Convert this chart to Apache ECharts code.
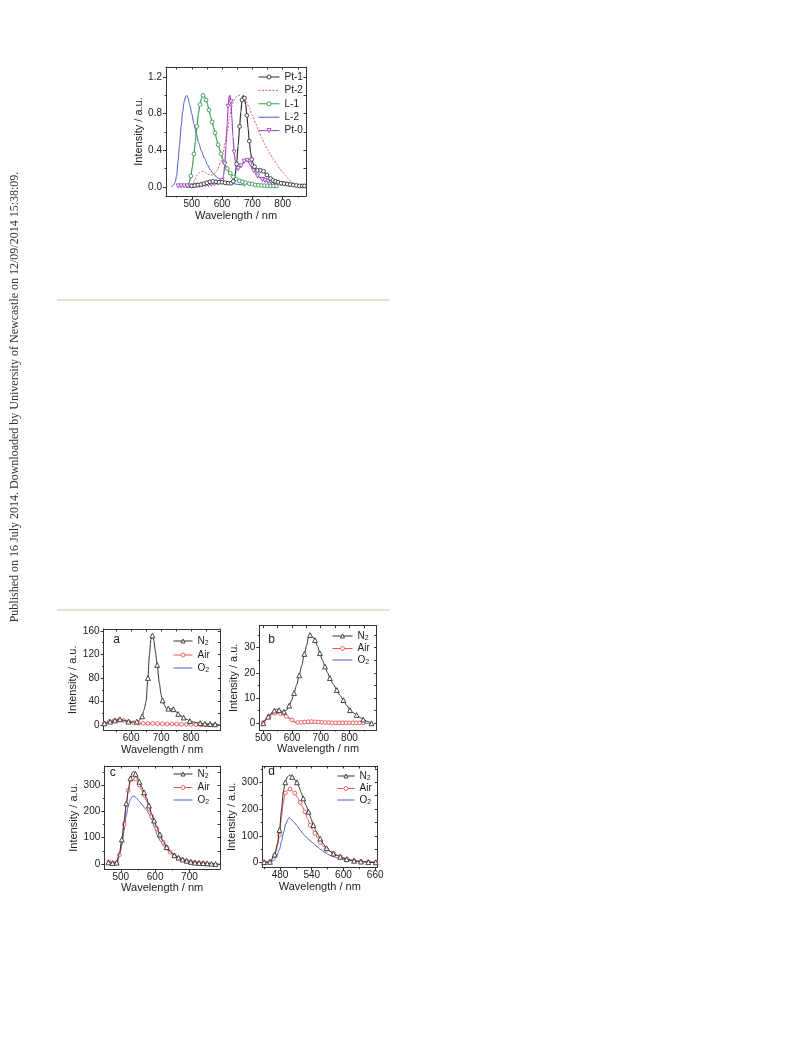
<!DOCTYPE html>
<html><head><meta charset="utf-8">
<script src="https://cdn.jsdelivr.net/npm/echarts@6/dist/echarts.min.js"></script>
<style>html,body{margin:0;padding:0;background:#fff}#c{width:793px;height:1039px}</style>
</head><body><div id="c"></div>
<script>
// ---------- top chart data ----------
const topNames = ['Pt-1','Pt-2','L-1','L-2','Pt-0'];
const topXTicks = [500,600,700,800];
const topXMinor = [450,550,650,750,850];
const topYTicks = [0,0.4,0.8,1.2];
const topYMinor = [0.2,0.6,1.0];
const topPt1 = [[500,0.01],[510,0.015],[520,0.02],[530,0.025],[540,0.035],[550,0.045],[560,0.055],[570,0.06],[580,0.055],[590,0.05],[600,0.05],[610,0.045],[620,0.04],[630,0.04],[637,0.06],[643,0.12],[648,0.25],[653,0.45],[658,0.66],[662,0.82],[666,0.95],[670,1.0],[674,0.97],[678,0.9],[682,0.78],[686,0.64],[690,0.5],[694,0.38],[698,0.3],[702,0.26],[707,0.22],[712,0.19],[717,0.18],[722,0.18],[727,0.18],[732,0.18],[737,0.17],[742,0.15],[748,0.13],[754,0.11],[760,0.09],[768,0.07],[776,0.06],[785,0.05],[795,0.04],[805,0.035],[815,0.03],[825,0.025],[835,0.02],[845,0.015],[855,0.01],[865,0.01],[872,0.01]];
const topPt2 = [[503,0.01],[510,0.08],[518,0.13],[527,0.16],[536,0.17],[545,0.16],[552,0.14],[560,0.13],[568,0.13],[577,0.15],[586,0.19],[595,0.27],[603,0.37],[610,0.48],[617,0.6],[624,0.74],[631,0.87],[638,0.94],[645,0.98],[652,1.0],[658,1.0],[665,0.98],[672,0.96],[680,0.93],[690,0.86],[700,0.78],[710,0.7],[720,0.62],[730,0.54],[740,0.47],[750,0.41],[760,0.35],[770,0.3],[780,0.25],[790,0.2],[800,0.16],[810,0.12],[820,0.08],[830,0.05],[840,0.02],[845,0.0]];
const topL1 = [[487,0.01],[492,0.05],[497,0.12],[502,0.22],[507,0.36],[512,0.5],[517,0.66],[522,0.8],[527,0.9],[532,0.97],[537,1.0],[542,0.99],[547,0.95],[552,0.9],[557,0.84],[562,0.77],[567,0.71],[572,0.65],[577,0.59],[582,0.52],[587,0.46],[592,0.41],[597,0.36],[602,0.31],[607,0.27],[612,0.23],[617,0.2],[622,0.17],[627,0.15],[632,0.13],[637,0.11],[642,0.1],[647,0.085],[652,0.075],[657,0.065],[662,0.06],[667,0.055],[672,0.05],[677,0.045],[682,0.04],[690,0.035],[700,0.03],[710,0.02],[720,0.018],[730,0.015],[740,0.013],[750,0.012],[760,0.01],[770,0.01],[780,0.01]];
const topL2 = [[433,0],[440,0.02],[445,0.05],[450,0.12],[455,0.28],[460,0.47],[465,0.66],[470,0.82],[475,0.93],[480,0.99],[484,1.0],[488,0.97],[493,0.9],[500,0.8],[507,0.69],[515,0.58],[523,0.48],[532,0.39],[542,0.31],[552,0.24],[562,0.18],[572,0.14],[585,0.1],[600,0.07],[615,0.05],[630,0.04],[645,0.03],[660,0.025],[672,0.02],[676,0.0]];
const topPt0 = [[455,0.01],[465,0.01],[475,0.01],[485,0.01],[495,0.01],[505,0.01],[515,0.015],[525,0.015],[535,0.02],[545,0.02],[555,0.025],[565,0.03],[575,0.035],[585,0.04],[593,0.05],[600,0.07],[605,0.12],[609,0.25],[613,0.45],[617,0.7],[620,0.88],[623,0.98],[626,1.0],[629,0.93],[632,0.78],[636,0.55],[640,0.38],[644,0.27],[648,0.22],[653,0.2],[658,0.21],[663,0.23],[668,0.26],[673,0.28],[678,0.29],[683,0.29],[688,0.28],[693,0.25],[698,0.21],[704,0.18],[710,0.15],[717,0.12],[725,0.1],[733,0.08],[742,0.07],[752,0.06],[762,0.05],[772,0.045],[782,0.04],[795,0.035],[808,0.03],[822,0.02]];

// ---------- panel a ----------
const aXTicks = [600,700,800], aXMinor = [550,650,750,850];
const aYTicks = [0,40,80,120,160], aYMinor = [20,60,100,140];
const aN2 = [[511,3],[530,6],[546,8],[563,10],[577,8],[591,6],[605,5],[619,6],[630,9],[637,15],[644,27],[650,41],[656,80],[661,119],[666,145],[671,152],[676,143],[681,125],[687,102],[694,72],[700,52],[705,42],[712,33],[718,28],[724,28],[732,28],[741,27],[750,23],[757,19],[763,17],[775,13],[786,10],[796,7],[810,5],[830,3.5],[846,2.5],[863,2],[880,1.5],[893,1]];
const aAir = [[511,3],[527,6],[544,8],[560,9],[576,8],[592,6],[608,4],[624,3.5],[640,3],[656,3],[672,3],[688,2.5],[704,2.5],[720,2],[736,2],[752,2],[768,1.5],[784,1.5],[800,1.2],[816,1],[832,1],[848,0.8],[864,0.6],[880,0.5],[894,0.5]];
const aO2 = [[511,2],[530,5],[548,7],[566,8],[584,7],[600,5],[620,3],[650,2],[700,1.5],[750,1],[800,0.8],[850,0.5],[895,0.3]];

// ---------- panel b ----------
const bXTicks = [500,600,700,800], bXMinor = [550,650,750,850];
const bYTicks = [0,10,20,30], bYMinor = [5,15,25,35];
const bN2 = [[500,0],[508,1.5],[517,2.6],[529,3.9],[538,5],[546,5.6],[555,5.2],[564,4.8],[572,4.6],[581,5.2],[590,7],[599,9.2],[607,12],[616,15.2],[625,19],[634,23],[643,27.5],[651,31],[657,34],[663,35],[671,34.3],[680,33],[689,30.5],[697,27.8],[706,25],[715,22.5],[724,20],[732,17.9],[744,15.4],[756,13.2],[767,11.1],[779,9.2],[790,7.2],[802,5.2],[813,4.2],[825,3.3],[837,2.3],[848,1.5],[862,0.8],[877,0]];
const bAir = [[500,0.3],[510,1.8],[520,2.8],[530,3.5],[540,3.9],[550,4],[560,3.8],[570,3.3],[580,2.7],[590,2],[600,1.3],[610,0.5],[620,0.3],[632,0.4],[644,0.5],[656,0.6],[668,0.7],[680,0.6],[692,0.5],[704,0.4],[716,0.3],[728,0.3],[740,0.2],[752,0.2],[764,0.2],[776,0.2],[788,0.2],[800,0.2],[812,0.2],[824,0.2],[836,0.2],[848,0.2]];
const bO2 = [[500,0],[510,1.5],[520,3],[530,4.1],[540,4.6],[550,4.8],[560,4.5],[570,3.8],[580,3],[590,2.1],[600,1.2],[610,0.4],[620,0.1],[650,0.1],[700,0.1],[750,0.1],[800,0.05],[850,0],[877,0]];

// ---------- panel c ----------
const cXTicks = [500,600,700], cXMinor = [550,650,750];
const cYTicks = [0,100,200,300], cYMinor = [50,150,250,350];
const cN2 = [[464,6],[476,3],[488,5],[496,40],[503,93],[510,165],[516,230],[522,281],[528,325],[534,348],[538,352],[543,342],[548,330],[554,312],[561,292],[568,272],[575,252],[582,222],[590,190],[597,165],[605,142],[614,112],[624,85],[634,64],[644,47],[656,33],[668,24],[680,17],[692,12],[704,8],[716,5],[728,4],[740,3],[752,2],[764,1],[776,0]];
const cAir = [[466,8],[478,5],[488,4],[496,35],[503,80],[510,150],[516,225],[522,280],[528,310],[534,326],[538,330],[543,322],[548,314],[554,300],[561,280],[568,262],[575,240],[582,210],[590,180],[597,157],[605,135],[614,107],[624,82],[634,62],[644,45],[656,32],[668,23],[680,16],[692,11],[704,8],[716,6],[728,4],[740,3],[752,2]];
const cO2 = [[466,5],[478,3],[488,4],[496,30],[503,70],[510,130],[516,185],[522,222],[528,245],[533,255],[538,258],[543,254],[548,247],[555,236],[562,225],[570,212],[576,204],[583,188],[590,168],[598,140],[606,110],[615,88],[624,70],[634,55],[644,42],[656,31],[668,22],[680,16],[692,11],[704,7],[716,5],[730,3],[750,2],[770,1],[788,0]];

// ---------- panel d ----------
const dXTicks = [480,540,600,660], dXMinor = [450,510,570,630];
const dYTicks = [0,100,200,300], dYMinor = [50,150,250,350];
const dN2 = [[450,2],[461,3],[470,30],[475,70],[479,122],[483,200],[486,262],[490,300],[494,320],[498,327],[503,320],[508,310],[512,300],[516,283],[520,262],[524,240],[529,215],[534,190],[539,163],[543,140],[549,115],[556,90],[562,70],[568,54],[575,42],[581,34],[587,28],[594,22],[600,17],[606,13],[613,10],[620,7],[627,5],[633,4],[640,3],[647,2],[654,1],[661,1]];
const dAir = [[450,2],[461,3],[470,28],[475,60],[479,103],[483,172],[486,222],[490,260],[494,270],[499,275],[503,270],[508,260],[513,243],[518,225],[523,208],[527,190],[532,165],[537,140],[542,122],[546,110],[551,92],[556,76],[562,62],[568,50],[575,42],[581,35],[587,29],[594,23],[600,18],[607,14],[613,10],[620,8],[627,6],[633,5],[640,4],[647,3],[654,2],[661,1]];
const dO2 = [[450,1],[461,2],[468,8],[474,25],[479,50],[483,80],[487,115],[491,145],[495,162],[498,168],[502,160],[507,150],[512,138],[518,122],[524,107],[530,95],[537,82],[543,72],[550,60],[557,49],[565,38],[575,27],[585,20],[595,14],[606,10],[620,6],[638,3],[652,2],[664,1]];

const gasNames = ['N2','Air','O2'];

// ---------- styling ----------
const AX = '#333', TXT = '#222';
const FONT = '"Liberation Sans", Arial, sans-serif';
const BLACK = '#333', RED = '#f05555', BLUE = '#4a5ccc', GREEN = '#3a9a52', PURPLE = '#a347c4';

// show a marker only when at least `gap` nm from the previous marker
function marked(data, gap) {
  let last = -1e9;
  return data.map(p => {
    if (p[0] - last >= gap) { last = p[0]; return {value: p}; }
    return {value: p, symbol: 'none'};
  });
}

const grids = [], xAxes = [], yAxes = [], series = [], legends = [];

function panel(cfg) {
  const g = grids.length;
  grids.push({left: cfg.box[0], top: cfg.box[1], width: cfg.box[2], height: cfg.box[3]});
  const xi = xAxes.length, yi = yAxes.length;
  const base = {gridIndex: g, type: 'value', splitLine: {show: false}, axisPointer: {show: false}};
  const ls = {color: AX, width: 1};
  const lab = {fontSize: 10, color: TXT, fontFamily: FONT};
  xAxes.push(Object.assign({}, base, {position: 'bottom', min: cfg.x[0], max: cfg.x[1],
    axisLine: {show: true, onZero: false, lineStyle: ls},
    axisTick: {show: true, inside: false, length: 3, customValues: cfg.xt, lineStyle: ls},
    axisLabel: Object.assign({show: true, customValues: cfg.xt, margin: 3}, lab),
    name: 'Wavelength / nm', nameLocation: 'middle', nameGap: cfg.xng,
    nameTextStyle: {fontSize: 11, color: TXT, fontFamily: FONT}}));
  xAxes.push(Object.assign({}, base, {position: 'bottom', min: cfg.x[0], max: cfg.x[1],
    axisLine: {show: false, onZero: false},
    axisTick: {show: true, inside: false, length: 1.5, customValues: cfg.xm, lineStyle: ls},
    axisLabel: {show: false}}));
  xAxes.push(Object.assign({}, base, {position: 'top', min: cfg.x[0], max: cfg.x[1],
    axisLine: {show: true, onZero: false, lineStyle: ls},
    axisTick: {show: true, inside: true, length: 2.5, customValues: cfg.xt.concat(cfg.xm), lineStyle: ls},
    axisLabel: {show: false}}));
  yAxes.push(Object.assign({}, base, {position: 'left', min: cfg.y[0], max: cfg.y[1],
    axisLine: {show: true, onZero: false, lineStyle: ls},
    axisTick: {show: true, inside: false, length: 3, customValues: cfg.yt, lineStyle: ls},
    axisLabel: Object.assign({show: true, customValues: cfg.yt, margin: 4, formatter: cfg.yf || (v => String(Math.round(v)))}, lab),
    name: 'Intensity / a.u.', nameLocation: 'middle', nameGap: cfg.yng,
    nameTextStyle: {fontSize: 11, color: TXT, fontFamily: FONT}}));
  yAxes.push(Object.assign({}, base, {position: 'left', min: cfg.y[0], max: cfg.y[1],
    axisLine: {show: false, onZero: false},
    axisTick: {show: true, inside: false, length: 1.5, customValues: cfg.ym, lineStyle: ls},
    axisLabel: {show: false}}));
  yAxes.push(Object.assign({}, base, {position: 'right', min: cfg.y[0], max: cfg.y[1],
    axisLine: {show: true, onZero: false, lineStyle: ls},
    axisTick: {show: true, inside: true, length: 2.5, customValues: cfg.yt.concat(cfg.ym), lineStyle: ls},
    axisLabel: {show: false}}));
  cfg.series.forEach(s => {
    series.push(Object.assign({type: 'line', xAxisIndex: xi, yAxisIndex: yi, animation: false,
      smooth: 0.25, smoothMonotone: 'x', showAllSymbol: true, clip: true,
      emphasis: {disabled: true}}, s));
  });
  legends.push(Object.assign({orient: 'vertical', padding: 0, selectedMode: false,
    itemHeight: 5, lineStyle: {width: 1},
    textStyle: {fontSize: 10, color: TXT, fontFamily: FONT,
      rich: {s: {fontSize: 7, verticalAlign: 'bottom', padding: [5, 0, 0, 0], color: TXT, fontFamily: FONT}}},
    formatter: n => (n === 'N2' || n === 'O2') ? n[0] + '{s|2}' : n}, cfg.legend));
}

function sym(shape, color, size, extra) {
  return Object.assign({color: color, symbol: shape, symbolSize: size,
    itemStyle: {color: '#fff', borderColor: color, borderWidth: 0.9}}, extra || {});
}
function hollow(name, color) {
  return {name: name, itemStyle: {color: '#fff', borderColor: color, borderWidth: 0.9}, lineStyle: {color: color, width: 1}};
}
function lineOnly(name, color, type) {
  return {name: name, itemStyle: {opacity: 0}, lineStyle: {color: color, width: 1, type: type || 'solid'}};
}

function gas(n2, air, o2, gN2, gAir) {
  return [
    Object.assign(sym('triangle', BLACK, 4.8), {name: 'N2', data: marked(n2, gN2), lineStyle: {width: 1, color: BLACK}, z: 3}),
    Object.assign(sym('circle', RED, 3.8), {name: 'Air', data: marked(air, gAir), lineStyle: {width: 1, color: RED}, z: 2}),
    {name: 'O2', data: o2, color: BLUE, lineStyle: {width: 1, color: BLUE}, symbol: 'none', showSymbol: false, z: 1}
  ];
}
const gasLegend = [hollow('N2', BLACK), hollow('Air', RED), lineOnly('O2', BLUE)];

// top chart
panel({box: [166, 67, 140, 129], x: [415, 877], y: [-0.1, 1.31],
  xt: topXTicks, xm: topXMinor, yt: topYTicks, ym: topYMinor, xng: 14, yng: 15.5,
  yf: v => v.toFixed(1),
  series: [
    {name: 'L-2', data: topL2, color: BLUE, lineStyle: {width: 1, color: BLUE}, symbol: 'none', showSymbol: false},
    Object.assign(sym('circle', GREEN, 3.8), {name: 'L-1', data: marked(topL1, 9), lineStyle: {width: 1.2, color: GREEN}}),
    {name: 'Pt-2', data: topPt2, color: RED, lineStyle: {width: 1, color: RED, type: [2, 1.5]}, symbol: 'none', showSymbol: false},
    Object.assign(sym('triangle', PURPLE, 4, {symbolRotate: 180}), {name: 'Pt-0', data: marked(topPt0, 9), lineStyle: {width: 1.2, color: PURPLE}}),
    Object.assign(sym('circle', BLACK, 3.8), {name: 'Pt-1', data: marked(topPt1, 7), lineStyle: {width: 1.2, color: BLACK}})
  ],
  legend: {data: [hollow('Pt-1', BLACK), lineOnly('Pt-2', RED, [2, 1.5]), hollow('L-1', GREEN), lineOnly('L-2', BLUE), hollow('Pt-0', PURPLE)],
    left: 258, top: 72, itemWidth: 21, itemGap: 3.4}
});
// a
panel({box: [103.5, 629, 117, 101.5], x: [508, 898], y: [-9, 163],
  xt: aXTicks, xm: aXMinor, yt: aYTicks, ym: aYMinor, xng: 11, yng: 14,
  series: gas(aN2, aAir, aO2, 15, 15),
  legend: {data: gasLegend, left: 173, top: 636, itemWidth: 19, itemGap: 3}
});
// b
panel({box: [259.3, 625.7, 117.4, 104.3], x: [486, 895], y: [-2.66, 38.7],
  xt: bXTicks, xm: bXMinor, yt: bYTicks, ym: bYMinor, xng: 11, yng: 20,
  series: gas(bN2, bAir, bO2, 15, 11),
  legend: {data: gasLegend, left: 332, top: 631, itemWidth: 20, itemGap: 1.5}
});
// c
panel({box: [104.3, 766, 115.7, 103], x: [452, 789], y: [-19, 372],
  xt: cXTicks, xm: cXMinor, yt: cYTicks, ym: cYMinor, xng: 12, yng: 25,
  series: gas(cN2, cAir, cO2, 11, 8),
  legend: {data: gasLegend, left: 173, top: 769, itemWidth: 19, itemGap: 2.5}
});
// d
panel({box: [262.3, 766, 115, 101.7], x: [446.5, 664], y: [-18.7, 361],
  xt: dXTicks, xm: dXMinor, yt: dYTicks, ym: dYMinor, xng: 12, yng: 23.5,
  series: gas(dN2, dAir, dO2, 9, 8),
  legend: {data: gasLegend, left: 337, top: 771, itemWidth: 17, itemGap: 1.5}
});

const graphic = [
  {type: 'rect', shape: {x: 57, y: 299, width: 333, height: 2}, style: {fill: '#e3e3d3'}, silent: true},
  {type: 'rect', shape: {x: 57, y: 609, width: 333, height: 2}, style: {fill: '#e3e3d3'}, silent: true},
  {type: 'text', x: 15, y: 397, rotation: Math.PI / 2, silent: true,
    style: {text: 'Published on 16 July 2014. Downloaded by University of Newcastle on 12/09/2014 15:38:09.',
      fontSize: 12, fontFamily: '"Liberation Serif", "Times New Roman", serif', fill: '#333',
      textAlign: 'center', textVerticalAlign: 'middle'}},
  {type: 'text', x: 116.7, y: 640, silent: true, style: {text: 'a', fontSize: 12, fontFamily: FONT, fill: TXT, textAlign: 'center', textVerticalAlign: 'middle'}},
  {type: 'text', x: 271.7, y: 640, silent: true, style: {text: 'b', fontSize: 12, fontFamily: FONT, fill: TXT, textAlign: 'center', textVerticalAlign: 'middle'}},
  {type: 'text', x: 112.7, y: 772.3, silent: true, style: {text: 'c', fontSize: 12, fontFamily: FONT, fill: TXT, textAlign: 'center', textVerticalAlign: 'middle'}},
  {type: 'text', x: 271.7, y: 772, silent: true, style: {text: 'd', fontSize: 12, fontFamily: FONT, fill: TXT, textAlign: 'center', textVerticalAlign: 'middle'}}
];

const chart = echarts.init(document.getElementById('c'), null, {renderer: 'canvas'});
chart.setOption({
  animation: false,
  backgroundColor: '#fff',
  grid: grids, xAxis: xAxes, yAxis: yAxes, series: series, legend: legends, graphic: graphic
});
</script></body></html>
